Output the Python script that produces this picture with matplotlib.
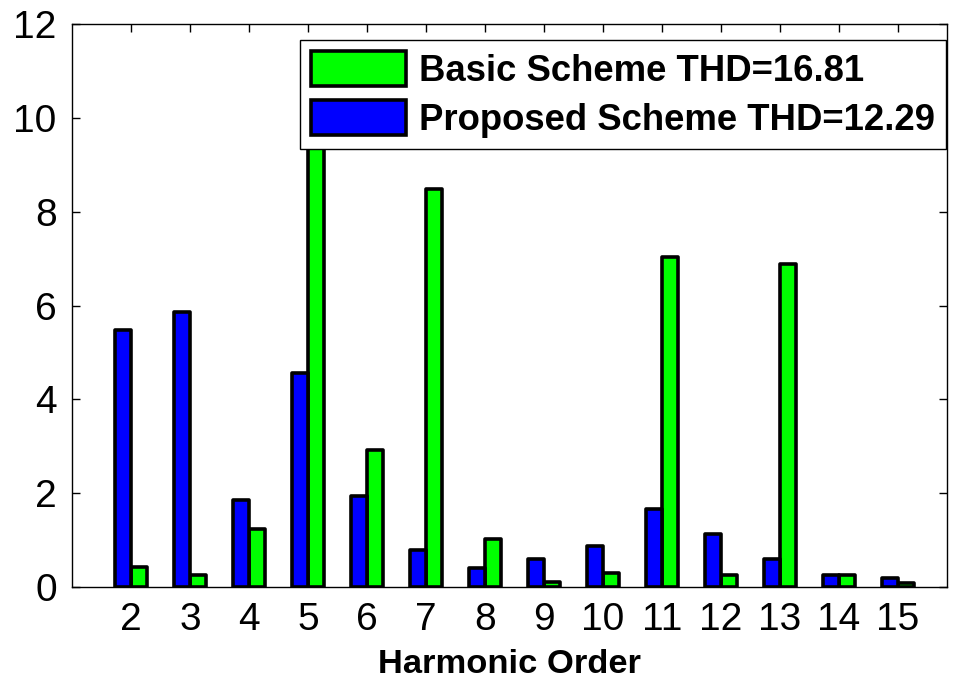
import matplotlib
matplotlib.use("Agg")
from matplotlib import pyplot as plt, font_manager
import numpy as np

orders = [2, 3, 4, 5, 6, 7, 8, 9, 10, 11, 12, 13, 14, 15]
proposed = [5.48, 5.87, 1.85, 4.57, 1.94, 0.79, 0.40, 0.59, 0.87, 1.66, 1.12, 0.59, 0.26, 0.20]
basic = [0.43, 0.26, 1.24, 10.5, 2.91, 8.48, 1.02, 0.11, 0.29, 7.03, 0.26, 6.88, 0.26, 0.08]
basic_label = "Basic Scheme THD=16.81"
proposed_label = "Proposed Scheme THD=12.29"

# condensed bold for the legend if the narrow face is around
names = {f.name for f in font_manager.fontManager.ttflist}
narrow = "Liberation Sans Narrow" in names
legend_family = "Liberation Sans Narrow" if narrow else "Liberation Sans"
legend_size = 28 if narrow else 26.3

plt.rcParams["font.family"] = ["Liberation Sans", "DejaVu Sans"]

fig = plt.figure(figsize=(9.55, 6.82), dpi=100)
ax = fig.add_axes([0.0754, 0.1393, 0.9162, 0.8255])

x = np.array(orders)
w = 0.27
edge = dict(edgecolor="black", linewidth=2.6, joinstyle="round")
ax.bar(x + 0.14, basic, w, color=(0, 1, 0), label=basic_label, **edge)
ax.bar(x - 0.14, proposed, w, color=(0, 0, 1), label=proposed_label, **edge)

ax.set_xlim(1.0, 15.83)
ax.set_ylim(0, 12)
ax.set_xticks(orders)
ax.set_yticks(range(0, 13, 2))
ax.tick_params(direction="in", top=True, right=True, length=6, width=1,
               labelsize=28, pad=11)
for s in ax.spines.values():
    s.set_linewidth(1)

ax.set_xlabel("Harmonic Order", fontsize=24.8, fontweight="bold", labelpad=8)

leg = ax.legend(loc="upper right", bbox_to_anchor=(0.999, 0.972),
                prop={"family": legend_family, "weight": "bold", "size": legend_size},
                handlelength=2.6, handleheight=1.1, handletextpad=0.35,
                labelspacing=0.3, borderpad=0.3, borderaxespad=0.0,
                fancybox=False, framealpha=1)
leg.get_frame().set_edgecolor("black")
leg.get_frame().set_linewidth(1)

fig.savefig("out.png", dpi=100)
